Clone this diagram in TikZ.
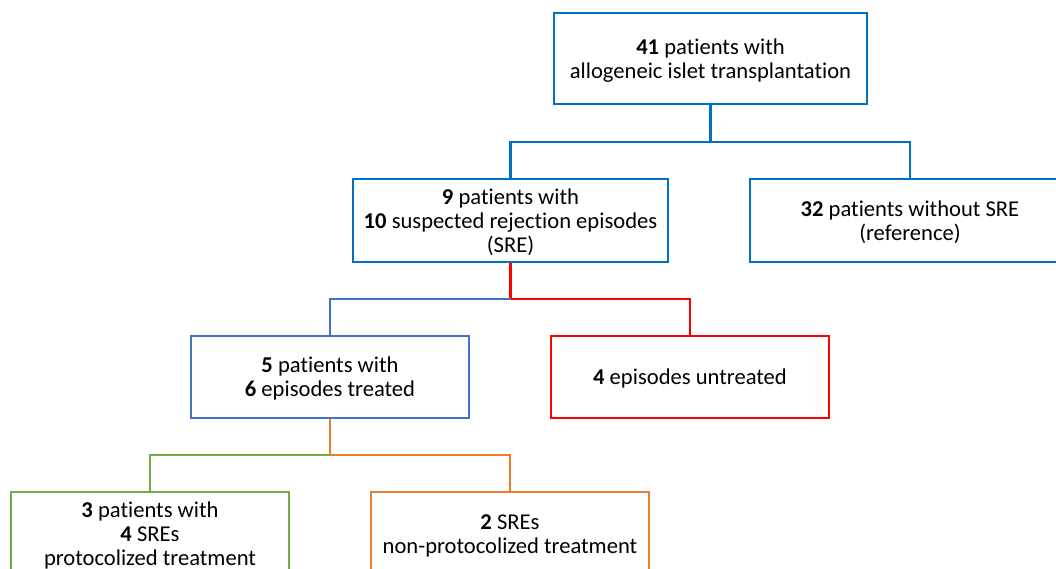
\documentclass[tikz,border=0pt]{standalone}
\usepackage{fontspec}
\setmainfont{Carlito}[Ligatures={NoCommon}]
\definecolor{cblue}{HTML}{0070C0}
\definecolor{lblue}{HTML}{4472C4}
\definecolor{cred}{HTML}{FF0000}
\definecolor{cgreen}{HTML}{70AD47}
\definecolor{corange}{HTML}{ED7D31}
\tikzset{
  box/.style={draw, line width=2.6pt, rectangle, align=center, inner sep=0pt,
    text depth=0pt, font=\fontsize{22.6}{24}\selectfont, fill=white},
  link/.style={line width=2.6pt}
}
\begin{document}
\begin{tikzpicture}[x=1pt,y=-1pt]
\useasboundingbox (0,0) rectangle (1056,568);
\clip (0,0) rectangle (1056,568);
\fill[white] (0,0) rectangle (1056,568);
\node[box, draw=cblue, minimum width=313pt, minimum height=91pt] (top) at (710.5,58.5)
  {\textbf{41} patients with\\allogeneic islet transplantation};
\node[box, draw=cblue, minimum width=315pt, minimum height=83pt] (sre) at (510.5,220.5)
  {\textbf{9} patients with\\\textbf{10} suspected rejection episodes\\(SRE)};
\node[box, draw=cblue, minimum width=320pt, minimum height=83pt] (ref) at (910,220.5)
  {\textbf{32} patients without SRE\\(reference)};
\node[box, draw=lblue, minimum width=278pt, minimum height=82pt] (treat) at (330,377)
  {\textbf{5} patients with\\\textbf{6} episodes treated};
\node[box, draw=cred, minimum width=278pt, minimum height=82pt] (untr) at (690,377)
  {\textbf{4} episodes untreated};
\node[box, draw=cgreen, minimum width=278pt, minimum height=84pt] (prot) at (150,534)
  {\textbf{3} patients with\\\textbf{4} SREs\\protocolized treatment};
\node[box, draw=corange, minimum width=278pt, minimum height=84pt] (nonp) at (510,534)
  {\textbf{2} SREs\\non-protocolized treatment};
% level 1
\draw[link, cblue] (top.south) -- (710.5,142) coordinate (j1);
\draw[link, cblue] (j1) -| (sre.north);
\draw[link, cblue] (j1) -| (ref.north);
% level 2
\draw[link, cred] (sre.south) -- (510.5,299) coordinate (j2);
\draw[link, lblue] (j2) -| (treat.north);
\draw[link, cred] (j2) -| (untr.north);
% level 3
\draw[link, corange] (treat.south) -- (330,455) coordinate (j3);
\draw[link, cgreen] (j3) -| (prot.north);
\draw[link, corange] (j3) -| (nonp.north);
\end{tikzpicture}
\end{document}
